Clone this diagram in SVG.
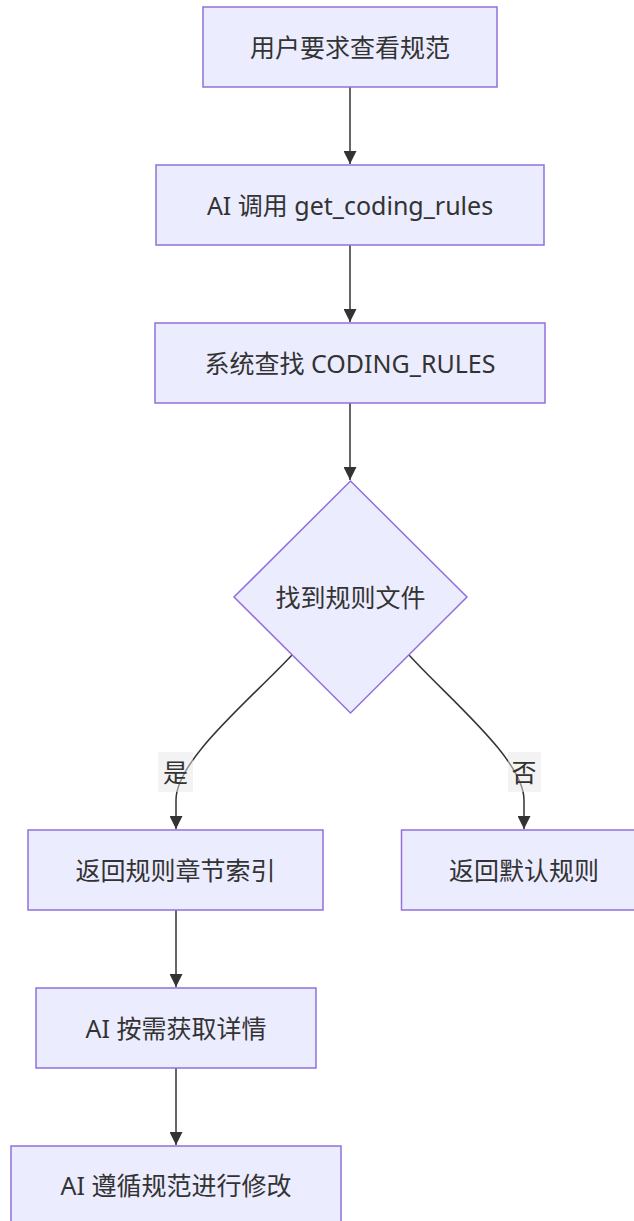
<svg xmlns="http://www.w3.org/2000/svg" width="634" height="1221" viewBox="0 0 634 1221">
  <style>
    .node rect, .node polygon { fill: #ECECFF; stroke: #9370DB; stroke-width: 1.5; }
    .node text { font-family: "Noto Sans", "Noto Sans CJK SC", sans-serif; font-size: 25px; fill: #333333; text-anchor: middle; dominant-baseline: central; }
    .edge { fill: none; stroke: #333333; stroke-width: 1.5; }
    .elabel rect { fill: #E8E8E8; fill-opacity: 0.5; }
    .elabel text { font-family: "Noto Sans", "Noto Sans CJK SC", sans-serif; font-size: 25px; fill: #333333; text-anchor: middle; dominant-baseline: central; }
  </style>
  <defs>
    <marker id="arrow" viewBox="0 0 10 10" refX="10" refY="5" markerUnits="userSpaceOnUse" markerWidth="13" markerHeight="13" orient="auto">
      <path d="M0,0 L10,5 L0,10 z" fill="#333333"/>
    </marker>
  </defs>
  <rect width="634" height="1221" fill="#ffffff"/>

  <g id="connectors">
    <path class="edge" d="M350,87 L350,164" marker-end="url(#arrow)"/>
    <path class="edge" d="M350,245 L350,322" marker-end="url(#arrow)"/>
    <path class="edge" d="M350,403 L350,480" marker-end="url(#arrow)"/>
    <path class="edge" d="M292,655 C250,700 176,760 176,800 L176,829" marker-end="url(#arrow)"/>
    <path class="edge" d="M409,655 C450,700 524,760 524,800 L524,829" marker-end="url(#arrow)"/>
    <path class="edge" d="M176,910 L176,987" marker-end="url(#arrow)"/>
    <path class="edge" d="M176,1068 L176,1145" marker-end="url(#arrow)"/>
    <g class="elabel" id="label-yes">
      <rect x="158" y="752" width="35" height="40"/>
      <text x="175.5" y="772">是</text>
    </g>
    <g class="elabel" id="label-no">
      <rect x="508" y="752" width="33" height="40"/>
      <text x="524" y="772">否</text>
    </g>
  </g>

  <g class="node" id="n-request">
    <rect x="203" y="7" width="294" height="80"/>
    <text x="350" y="47">用户要求查看规范</text>
  </g>
  <g class="node" id="n-call">
    <rect x="156" y="165" width="388" height="80"/>
    <text x="350" y="205">AI 调用 get_coding_rules</text>
  </g>
  <g class="node" id="n-lookup">
    <rect x="155" y="323" width="390" height="80"/>
    <text x="350" y="363">系统查找 CODING_RULES</text>
  </g>
  <g class="node" id="n-found">
    <polygon points="350.5,481 467,597 350.5,713 234,597"/>
    <text x="350.5" y="597">找到规则文件</text>
  </g>
  <g class="node" id="n-index">
    <rect x="28" y="830" width="295" height="80"/>
    <text x="175.5" y="870">返回规则章节索引</text>
  </g>
  <g class="node" id="n-default">
    <rect x="401.5" y="830" width="245" height="80"/>
    <text x="524" y="870">返回默认规则</text>
  </g>
  <g class="node" id="n-fetch">
    <rect x="36" y="988" width="280" height="80"/>
    <text x="176" y="1028">AI 按需获取详情</text>
  </g>
  <g class="node" id="n-apply">
    <rect x="11" y="1146" width="330" height="80"/>
    <text x="176" y="1185">AI 遵循规范进行修改</text>
  </g>
</svg>
